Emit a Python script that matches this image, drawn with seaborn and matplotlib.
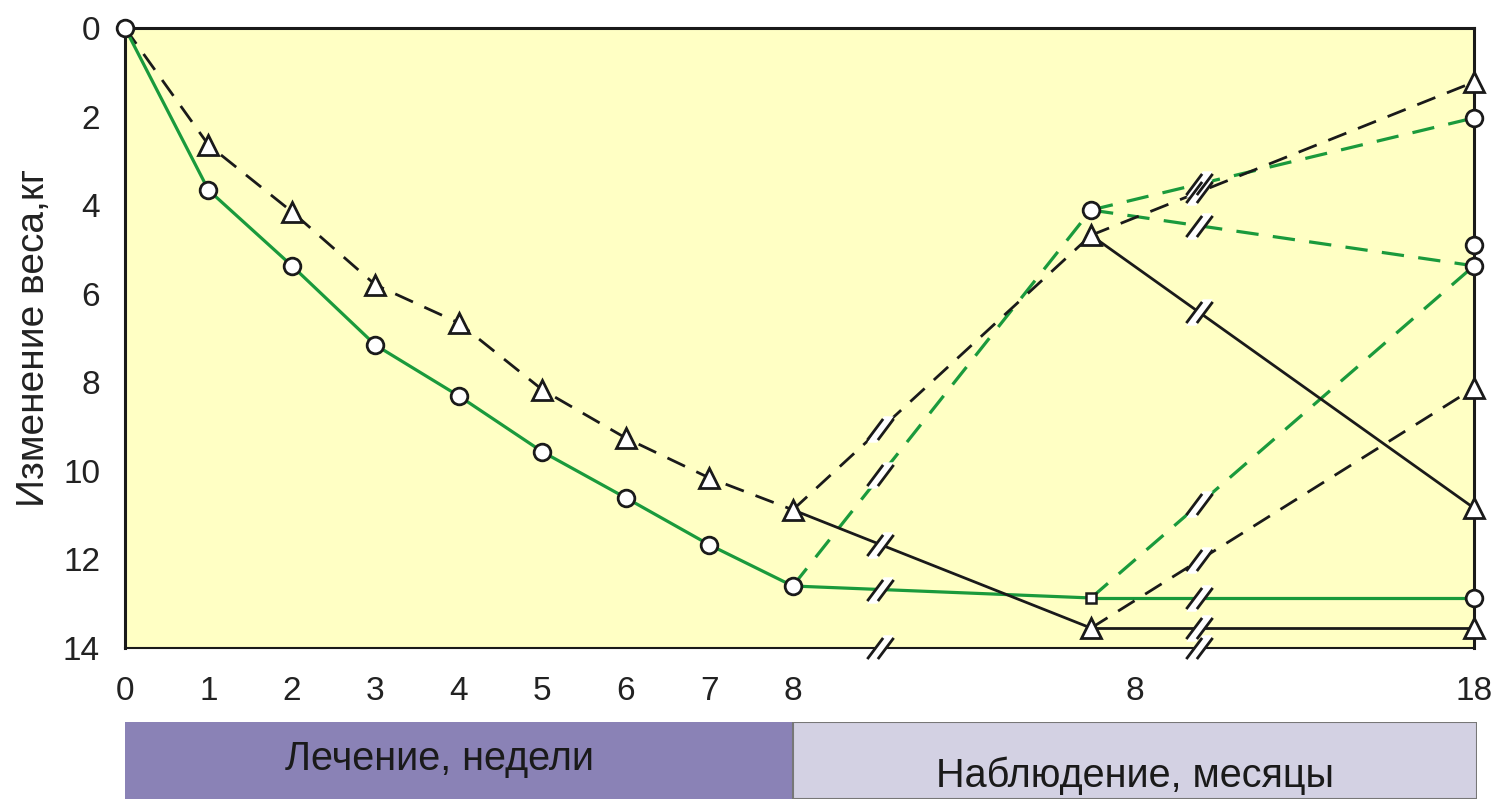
import matplotlib
matplotlib.use('Agg')
import matplotlib.pyplot as plt
import numpy as np
import pandas as pd
import seaborn as sns
from matplotlib.path import Path

# treatment phase (weeks)
weeks = [0, 1, 2, 3, 4, 5, 6, 7, 8]
green_weeks = [0, 3.66, 5.37, 7.16, 8.31, 9.57, 10.61, 11.67, 12.6]
black_weeks = [0, 2.64, 4.15, 5.8, 6.66, 8.17, 9.26, 10.16, 10.88]

# follow-up phase (months)
mid_month = 6.7
end_month = 18
green_solid_mid, green_solid_end = 12.87, 12.87
green_dash_mid, green_dash_end_a, green_dash_end_b = 4.11, 2.03, 5.37
green_extra_end = 4.89
black_dash_mid, black_dash_end_up, black_solid_end_down = 4.68, 1.22, 10.84
black_solid_mid, black_solid_end, black_dash_end_low = 13.55, 13.55, 8.13

month_ticks = [8, 18]
week_ticks = weeks

GREEN = '#1a9a3c'
BLACK = '#1a1a1a'
BG = '#ffffc4'


def mx(m):
    # month -> position on the drawing axis (after the break)
    return 12.1 + (m - 8) * 0.406


sns.set_style('white')
plt.rcParams['font.family'] = ['Liberation Sans Narrow', 'Liberation Sans', 'DejaVu Sans']

fig = plt.figure(figsize=(14.96, 7.99), dpi=100)
ax = fig.add_axes([125 / 1496, 1 - 648 / 799, (1474 - 125) / 1496, 620 / 799])
ax.set_facecolor(BG)

circ = dict(marker='o', markersize=12, markerfacecolor='white', markeredgecolor=BLACK, markeredgewidth=2)
tri = dict(marker='^', markersize=14, markerfacecolor='white', markeredgecolor=BLACK, markeredgewidth=2)
dash = (7, 4.5)
LW_G, LW_B = 2.3, 2.0

# build follow-up segments: (x0, y0, x1, y1, color, dashed)
segs = [
    (8, green_weeks[-1], mx(mid_month), green_solid_mid, GREEN, False),
    (8, green_weeks[-1], mx(mid_month), green_dash_mid, GREEN, True),
    (8, black_weeks[-1], mx(mid_month), black_dash_mid, BLACK, True),
    (8, black_weeks[-1], mx(mid_month), black_solid_mid, BLACK, False),
    (mx(mid_month), green_solid_mid, mx(end_month), green_solid_end, GREEN, False),
    (mx(mid_month), green_solid_mid, mx(end_month), green_dash_end_b, GREEN, True),
    (mx(mid_month), green_dash_mid, mx(end_month), green_dash_end_a, GREEN, True),
    (mx(mid_month), green_dash_mid, mx(end_month), green_dash_end_b, GREEN, True),
    (mx(mid_month), black_dash_mid, mx(end_month), black_dash_end_up, BLACK, True),
    (mx(mid_month), black_dash_mid, mx(end_month), black_solid_end_down, BLACK, False),
    (mx(mid_month), black_solid_mid, mx(end_month), black_solid_end, BLACK, False),
    (mx(mid_month), black_solid_mid, mx(end_month), black_dash_end_low, BLACK, True),
]
for x0, y0, x1, y1, c, d in segs:
    kw = dict(dashes=dash) if d else {}
    ax.plot([x0, x1], [y0, y1], color=c, lw=LW_G if c == GREEN else LW_B, zorder=2, **kw)

# treatment curves
df = pd.DataFrame({'week': weeks, 'green': green_weeks, 'black': black_weeks})
sns.lineplot(data=df, x='week', y='black', ax=ax, color=BLACK, lw=LW_B, zorder=3)
ax.lines[-1].set_dashes(dash)
sns.lineplot(data=df, x='week', y='green', ax=ax, color=GREEN, lw=LW_G, zorder=3)
ax.plot(weeks[1:], black_weeks[1:], ls='none', zorder=5, **tri)
ax.plot(weeks, green_weeks, ls='none', zorder=5, clip_on=False, **circ)

# follow-up markers
ax.plot([mx(mid_month)], [green_dash_mid], ls='none', zorder=5, **circ)
ax.plot([mx(mid_month)] * 2, [black_dash_mid, black_solid_mid], ls='none', zorder=5, **tri)
ax.plot([mx(mid_month)], [green_solid_mid], ls='none', marker='s', markersize=7,
        markerfacecolor='white', markeredgecolor=BLACK, markeredgewidth=1.8, zorder=5)
ax.plot([mx(end_month)] * 4, [green_dash_end_a, green_extra_end, green_dash_end_b, green_solid_end],
        ls='none', zorder=6, clip_on=False, **circ)
ax.plot([mx(end_month)] * 4, [black_dash_end_up, black_dash_end_low, black_solid_end_down, black_solid_end],
        ls='none', zorder=6, clip_on=False, **tri)

# break symbols "//"
gap = Path([(-0.8, -0.8), (-0.2, -0.8), (0.8, 0.8), (0.2, 0.8), (-0.8, -0.8)],
           [Path.MOVETO, Path.LINETO, Path.LINETO, Path.LINETO, Path.CLOSEPOLY])
slash = Path([(-1, -0.8), (0.2, 0.8), (-0.2, -0.8), (1, 0.8)],
             [Path.MOVETO, Path.LINETO, Path.MOVETO, Path.LINETO])
brk1, brk2 = 9.05, 12.87
bx, by = [], []
for x0, y0, x1, y1, c, d in segs:
    for b in (brk1, brk2):
        if min(x0, x1) < b < max(x0, x1):
            bx.append(b)
            by.append(y0 + (y1 - y0) * (b - x0) / (x1 - x0))
bx += [brk1, brk2]
by += [14, 14]
ax.plot(bx, by, ls='none', marker=gap, markersize=19, markerfacecolor='white', markeredgewidth=0,
        zorder=7, clip_on=False)
ax.plot(bx, by, ls='none', marker=slash, markersize=19, markeredgecolor=BLACK, markeredgewidth=2,
        zorder=8, clip_on=False)

# axes
ax.set_xlim(0, mx(end_month))
ax.set_ylim(14, 0)
ax.set_yticks(range(0, 15, 2))
ax.set_xticks(week_ticks + [mx(m) for m in month_ticks])
ax.set_xticklabels([str(w) for w in week_ticks] + [str(m) for m in month_ticks])
ax.tick_params(axis='both', direction='out', length=12, width=1.2, color='#444444',
               labelsize=24, labelcolor='#222222', pad=6)
ax.tick_params(axis='x', pad=8)
for s in ax.spines.values():
    s.set_color(BLACK)
    s.set_linewidth(2.2)
ax.spines['bottom'].set_linewidth(1.5)
ax.set_xlabel('')
ax.set_ylabel('Изменение веса,кг', fontsize=28, color='#222222', labelpad=8)

# phase bar below
bar = fig.add_axes([125 / 1496, 0, (1477 - 125) / 1496, 77 / 799])
bar.set_xlim(0, mx(end_month) * 1352 / 1349)
bar.set_ylim(0, 1)
bar.axvspan(0, 8, color='#8a82b6', lw=0)
bar.axvspan(8, mx(end_month) * 1352 / 1349, facecolor='#d3d1e3', edgecolor='#777777', lw=1.5)
bar.text(3.77, 0.52, 'Лечение, недели', ha='center', va='center', fontsize=28.5, color='#1a1a1a')
bar.text(mx(8), 0.3, 'Наблюдение, месяцы', ha='center', va='center', fontsize=28.5, color='#1a1a1a')
bar.set_axis_off()

fig.savefig('out.png', dpi=100)
